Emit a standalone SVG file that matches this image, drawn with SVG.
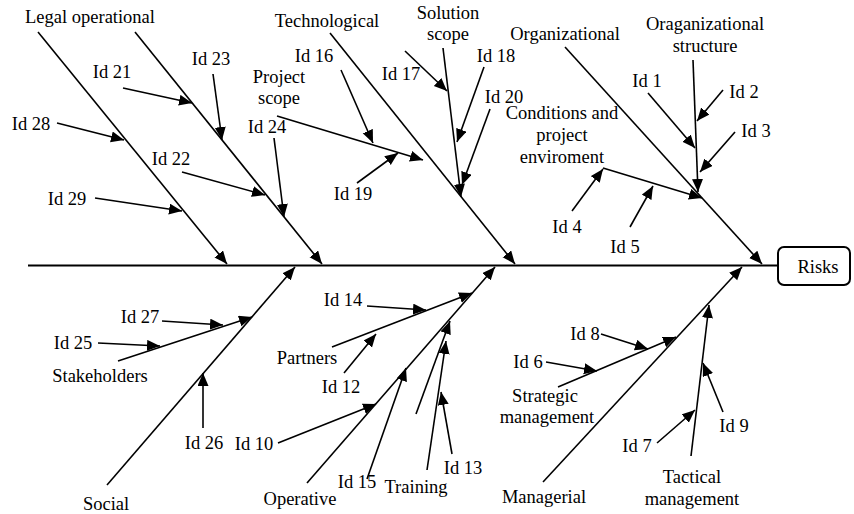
<svg xmlns="http://www.w3.org/2000/svg" width="854" height="514" viewBox="0 0 854 514">
  <style>
    text { font-family: "Liberation Serif", "Times New Roman", serif; font-size: 18.5px; fill: #000; text-anchor: middle; }
    .ln { stroke: #000; stroke-width: 1.6; fill: none; marker-end: url(#ah); }
    .spine { stroke: #000; stroke-width: 2.2; fill: none; }
    .box { fill: #fff; stroke: #000; stroke-width: 2; }
  </style>
  <defs>
    <marker id="ah" markerUnits="userSpaceOnUse" markerWidth="14" markerHeight="12" refX="13" refY="5.5" orient="auto">
      <path d="M0,0 L13,5.5 L0,11 z" fill="#000"/>
    </marker>
  </defs>
  <rect width="854" height="514" fill="#fff"/>

  <!-- connectors: spine, main bones and contributing causes -->
  <g id="connectors">
    <line class="spine" x1="28" y1="265.5" x2="778" y2="265.5"/>

    <!-- upper bones -->
    <line class="ln" x1="38" y1="32" x2="227" y2="264"/>
    <line class="ln" x1="135" y1="32" x2="322" y2="264"/>
    <line class="ln" x1="330" y1="33" x2="515" y2="264"/>
    <line class="ln" x1="565" y1="47" x2="762" y2="264"/>

    <!-- legal operational causes -->
    <line class="ln" x1="57" y1="123" x2="124" y2="140"/>
    <line class="ln" x1="95" y1="198" x2="182" y2="211"/>
    <line class="ln" x1="123" y1="88" x2="192" y2="103"/>
    <line class="ln" x1="213" y1="74" x2="222" y2="140"/>
    <line class="ln" x1="182" y1="172" x2="265" y2="195"/>
    <line class="ln" x1="274" y1="138" x2="284" y2="217"/>

    <!-- technological causes -->
    <line class="ln" x1="277" y1="116" x2="423" y2="160"/>
    <line class="ln" x1="341" y1="70" x2="373" y2="143"/>
    <line class="ln" x1="357" y1="183" x2="398" y2="153"/>
    <line class="ln" x1="443" y1="48" x2="461" y2="197"/>
    <line class="ln" x1="405" y1="51" x2="447" y2="91"/>
    <line class="ln" x1="484" y1="67" x2="457" y2="142"/>
    <line class="ln" x1="490" y1="109" x2="462" y2="185"/>

    <!-- organizational causes -->
    <line class="ln" x1="693" y1="60" x2="698" y2="192"/>
    <line class="ln" x1="648" y1="93" x2="695" y2="148"/>
    <line class="ln" x1="723" y1="90" x2="697" y2="121"/>
    <line class="ln" x1="735" y1="132" x2="700" y2="172"/>
    <line class="ln" x1="603" y1="168" x2="702" y2="198"/>
    <line class="ln" x1="572" y1="211" x2="603" y2="169"/>
    <line class="ln" x1="630" y1="227" x2="653" y2="186"/>

    <!-- lower bones -->
    <line class="ln" x1="107" y1="485" x2="295" y2="267"/>
    <line class="ln" x1="307" y1="483" x2="495" y2="267"/>
    <line class="ln" x1="543" y1="482" x2="742" y2="267"/>

    <!-- social causes -->
    <line class="ln" x1="118" y1="361" x2="252" y2="317"/>
    <line class="ln" x1="162" y1="321" x2="223" y2="325"/>
    <line class="ln" x1="98" y1="343" x2="160" y2="346"/>
    <line class="ln" x1="203" y1="428" x2="203" y2="373"/>

    <!-- operative causes -->
    <line class="ln" x1="332" y1="347" x2="472" y2="293"/>
    <line class="ln" x1="367" y1="306" x2="426" y2="310"/>
    <line class="ln" x1="344" y1="373" x2="376" y2="334"/>
    <line class="ln" x1="278" y1="443" x2="376" y2="404"/>
    <line class="ln" x1="367" y1="479" x2="406" y2="368"/>
    <line class="ln" x1="416" y1="414" x2="450" y2="321"/>
    <line class="ln" x1="427" y1="470" x2="446" y2="341"/>
    <line class="ln" x1="452" y1="454" x2="441" y2="392"/>

    <!-- managerial causes -->
    <line class="ln" x1="558" y1="387" x2="676" y2="337"/>
    <line class="ln" x1="601" y1="334" x2="648" y2="349"/>
    <line class="ln" x1="546" y1="362" x2="597" y2="371"/>
    <line class="ln" x1="691" y1="456" x2="709" y2="305"/>
    <line class="ln" x1="657" y1="443" x2="695" y2="410"/>
    <line class="ln" x1="723" y1="412" x2="703" y2="363"/>
  </g>

  <!-- effect -->
  <g id="risks">
    <rect class="box" x="778" y="247" width="72" height="38" rx="6"/>
    <text x="818" y="273">Risks</text>
  </g>

  <!-- category labels -->
  <g id="legal-operational"><text x="90" y="23">Legal operational</text></g>
  <g id="technological"><text x="327" y="27">Technological</text></g>
  <g id="organizational"><text x="565" y="40">Organizational</text></g>
  <g id="social"><text x="106" y="510">Social</text></g>
  <g id="operative"><text x="300" y="505">Operative</text></g>
  <g id="managerial"><text x="544" y="503">Managerial</text></g>

  <!-- sub-category labels -->
  <g id="project-scope"><text x="279" y="83">Project</text><text x="279" y="104">scope</text></g>
  <g id="solution-scope"><text x="448" y="19">Solution</text><text x="448" y="40">scope</text></g>
  <g id="org-structure"><text x="705" y="30">Oraganizational</text><text x="705" y="52">structure</text></g>
  <g id="conditions"><text x="562" y="119">Conditions and</text><text x="562" y="141">project</text><text x="562" y="163">enviroment</text></g>
  <g id="stakeholders"><text x="100" y="382">Stakeholders</text></g>
  <g id="partners"><text x="307" y="364">Partners</text></g>
  <g id="training"><text x="416" y="493">Training</text></g>
  <g id="strategic"><text x="545" y="402">Strategic</text><text x="547" y="423">management</text></g>
  <g id="tactical"><text x="692" y="483">Tactical</text><text x="692" y="505">management</text></g>

  <!-- cause ids -->
  <g id="id1"><text x="647" y="87">Id 1</text></g>
  <g id="id2"><text x="744" y="98">Id 2</text></g>
  <g id="id3"><text x="756" y="137">Id 3</text></g>
  <g id="id4"><text x="567" y="233">Id 4</text></g>
  <g id="id5"><text x="625" y="253">Id 5</text></g>
  <g id="id6"><text x="528" y="368">Id 6</text></g>
  <g id="id7"><text x="637" y="452">Id 7</text></g>
  <g id="id8"><text x="585" y="340">Id 8</text></g>
  <g id="id9"><text x="734" y="432">Id 9</text></g>
  <g id="id10"><text x="254" y="450">Id 10</text></g>
  <g id="id12"><text x="341" y="393">Id 12</text></g>
  <g id="id13"><text x="463" y="474">Id 13</text></g>
  <g id="id14"><text x="343" y="306">Id 14</text></g>
  <g id="id15"><text x="357" y="488">Id 15</text></g>
  <g id="id16"><text x="314" y="62">Id 16</text></g>
  <g id="id17"><text x="401" y="80">Id 17</text></g>
  <g id="id18"><text x="496" y="62">Id 18</text></g>
  <g id="id19"><text x="353" y="200">Id 19</text></g>
  <g id="id20"><text x="504" y="103">Id 20</text></g>
  <g id="id21"><text x="112" y="78">Id 21</text></g>
  <g id="id22"><text x="171" y="165">Id 22</text></g>
  <g id="id23"><text x="211" y="65">Id 23</text></g>
  <g id="id24"><text x="267" y="133">Id 24</text></g>
  <g id="id25"><text x="73" y="349">Id 25</text></g>
  <g id="id26"><text x="204" y="449">Id 26</text></g>
  <g id="id27"><text x="140" y="323">Id 27</text></g>
  <g id="id28"><text x="31" y="130">Id 28</text></g>
  <g id="id29"><text x="67" y="205">Id 29</text></g>
</svg>
